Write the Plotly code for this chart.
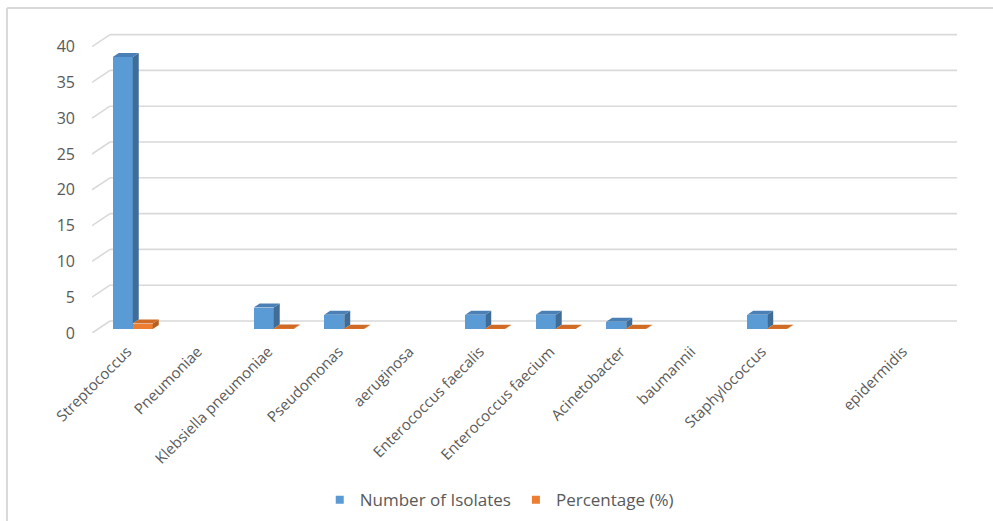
import plotly.graph_objects as go

# ---- data ----
categories = ["Streptococcus", "Pneumoniae", "Klebsiella pneumoniae", "Pseudomonas",
              "aeruginosa", "Enterococcus faecalis", "Enterococcus faecium",
              "Acinetobacter", "baumannii", "Staphylococcus", "", "epidermidis"]
isolates = [38, None, 3, 2, None, 2, 2, 1, None, 2, None, None]
percentage = [0.76, None, 0.06, 0.04, None, 0.04, 0.04, 0.02, None, 0.04, None, None]
y_ticks = [0, 5, 10, 15, 20, 25, 30, 35, 40]

# ---- styling ----
BLUE, BLUE_SIDE, BLUE_TOP = "#5B9BD5", "#3F6D98", "#4A80B6"
ORANGE, ORANGE_SIDE, ORANGE_TOP = "#ED7D31", "#B65E20", "#CF6B25"
GRID = "#D9D9D9"
TEXT = "#595959"
FONT = "Open Sans"

X_RANGE = [-0.5, 11.77]
Y_RANGE = [0, 41.9]              # front plane (tick labels)
Y2_RANGE = [-0.559, 41.341]      # bar plane
BAR_W = 0.284
BLUE_OFF = -0.206
ORANGE_OFF = BLUE_OFF + BAR_W
DX, DY = 0.085, 0.56             # depth of the 3-D bars (x units, y units)
WALL_DX, WALL_DY = 0.255, 1.676  # offset of the back wall

idx = list(range(len(categories)))

fig = go.Figure()

fig.add_trace(go.Bar(x=idx, y=isolates, width=BAR_W, offset=BLUE_OFF,
                     marker=dict(color=BLUE, line=dict(width=0)),
                     yaxis="y2", showlegend=False, name="Number of Isolates"))
fig.add_trace(go.Bar(x=idx, y=percentage, width=BAR_W, offset=ORANGE_OFF,
                     marker=dict(color=ORANGE, line=dict(width=0)),
                     yaxis="y2", showlegend=False, name="Percentage (%)"))

# legend entries with small square keys
for name, col in [("Number of Isolates", BLUE), ("Percentage (%)", ORANGE)]:
    fig.add_trace(go.Scatter(x=[None], y=[None], mode="markers", name=name,
                             marker=dict(symbol="square", size=8, color=col,
                                         line=dict(width=0))))

shapes = []

# back wall gridlines with the diagonal floor ticks
for v in y_ticks:
    shapes.append(dict(type="line", xref="x", yref="y", layer="below",
                       x0=X_RANGE[0] + WALL_DX, x1=X_RANGE[1],
                       y0=v + WALL_DY, y1=v + WALL_DY,
                       line=dict(color=GRID, width=1.6)))
    shapes.append(dict(type="line", xref="x", yref="y", layer="below",
                       x0=X_RANGE[0], x1=X_RANGE[0] + WALL_DX,
                       y0=v, y1=v + WALL_DY,
                       line=dict(color=GRID, width=1.6)))


def faces(vals, off, side_col, top_col, hidden_by=None):
    out = []
    for i, v in enumerate(vals):
        if v is None:
            continue
        x0 = i + off
        x1 = x0 + BAR_W
        base = 0
        if hidden_by is not None and hidden_by[i] is not None:
            base = hidden_by[i]
        side = (f"M{x1},{base} L{x1 + DX},{base + DY} L{x1 + DX},{v + DY} "
                f"L{x1},{v} Z")
        top = (f"M{x0},{v} L{x0 + DX},{v + DY} L{x1 + DX},{v + DY} "
               f"L{x1},{v} Z")
        out.append(dict(type="path", xref="x", yref="y2", layer="above",
                        path=side, fillcolor=side_col, line=dict(width=0)))
        out.append(dict(type="path", xref="x", yref="y2", layer="above",
                        path=top, fillcolor=top_col, line=dict(width=0)))
    return out


shapes += faces(isolates, BLUE_OFF, BLUE_SIDE, BLUE_TOP, hidden_by=percentage)
shapes += faces(percentage, ORANGE_OFF, ORANGE_SIDE, ORANGE_TOP)

# chart frame (left and top edges)
shapes.append(dict(type="line", xref="paper", yref="paper", layer="below",
                   x0=-0.0983, x1=-0.0983, y0=1.0833, y1=-0.63,
                   line=dict(color=GRID, width=2)))
shapes.append(dict(type="line", xref="paper", yref="paper", layer="below",
                   x0=-0.0983, x1=1.05, y0=1.0833, y1=1.0833,
                   line=dict(color=GRID, width=2)))

fig.update_layout(
    width=993, height=521,
    margin=dict(l=92, r=36, t=33, b=188),
    paper_bgcolor="white", plot_bgcolor="rgba(0,0,0,0)",
    font=dict(family=FONT, color=TEXT),
    shapes=shapes,
    xaxis=dict(range=X_RANGE, tickmode="array", tickvals=idx, ticktext=categories,
               tickangle=-45, tickfont=dict(size=15, color=TEXT),
               showgrid=False, zeroline=False, showline=False, ticks="",
               ticklabelstandoff=6),
    yaxis=dict(range=Y_RANGE, tickmode="array", tickvals=y_ticks,
               tickfont=dict(size=16, color=TEXT),
               showgrid=False, zeroline=False, showline=False, ticks="",
               ticklabelstandoff=16),
    yaxis2=dict(range=Y2_RANGE, overlaying="y", showgrid=False, zeroline=False,
                showline=False, showticklabels=False, ticks=""),
    legend=dict(orientation="h", xref="container", yref="container",
                x=0.322, xanchor="left", y=0.04, yanchor="middle",
                font=dict(size=17, color=TEXT), bgcolor="rgba(0,0,0,0)"),
    bargap=0, barmode="overlay",
)

fig.write_html("out.html")
